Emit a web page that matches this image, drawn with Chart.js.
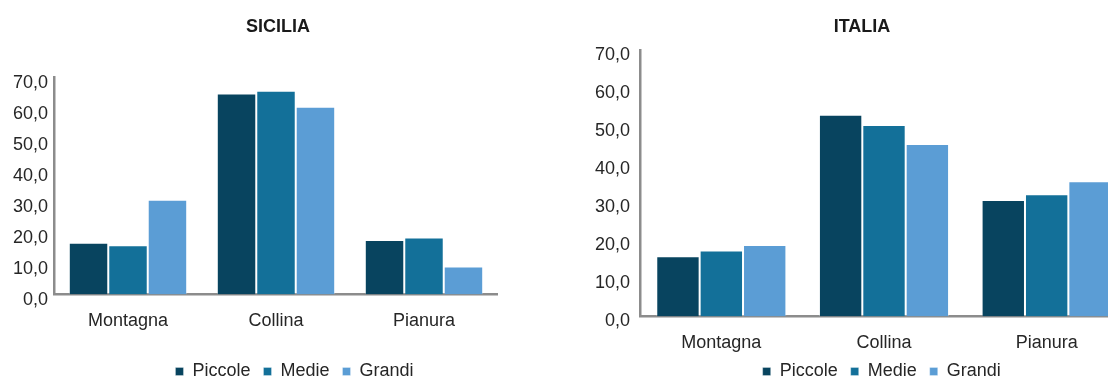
<!DOCTYPE html>
<html lang="it">
<head>
<meta charset="utf-8">
<title>Piccole, medie e grandi - Sicilia e Italia</title>
<script src="https://cdn.jsdelivr.net/npm/chart.js@4.4.1/dist/chart.umd.min.js"></script>
<style>
  html, body { margin: 0; padding: 0; background: #fff; overflow: hidden; }
  #frame { position: relative; width: 1108px; height: 376px; overflow: hidden; background: #fff; }
  #frame canvas { position: absolute; top: 0; }
  #sicilia { left: 0; }
  #italia { left: 590px; }
</style>
</head>
<body>
<div id="frame">
  <canvas id="sicilia" width="498" height="400"></canvas>
  <canvas id="italia" width="538" height="400"></canvas>
</div>
<script>
// Categories and series
const categories = ['Montagna', 'Collina', 'Pianura'];
const seriesNames = ['Piccole', 'Medie', 'Grandi'];

// SICILIA values (%)
const siciliaPiccole = [16.7, 64.8, 17.6];
const siciliaMedie   = [15.9, 65.7, 18.4];
const siciliaGrandi  = [30.5, 60.5, 9.0];

// ITALIA values (%)
const italiaPiccole = [15.9, 53.1, 30.7];
const italiaMedie   = [17.4, 50.4, 32.2];
const italiaGrandi  = [18.8, 45.4, 35.6];

// Value-axis tick labels, bottom to top
const yTickLabels = ['0,0', '10,0', '20,0', '30,0', '40,0', '50,0', '60,0', '70,0'];

const seriesColors = ['#08445f', '#137099', '#5b9dd5'];
const FONT = "'Liberation Sans', Arial, sans-serif";
const TEXT = '#262626';
const AXIS = '#8c8c8c';

// Moves the title and legend after the layout has been computed
const nudge = {
  id: 'nudge',
  afterLayout(chart, args, opts) {
    const shift = (box, dx, dy) => {
      if (!box) return;
      box.left += dx || 0; box.right += dx || 0;
      box.top += dy || 0; box.bottom += dy || 0;
    };
    shift(chart.titleBlock, opts.titleX, 0);
    shift(chart.legend, opts.legendX, opts.legendY);
  }
};

function drawPanel(id, title, values, p) {
  return new Chart(document.getElementById(id), {
    type: 'bar',
    data: {
      labels: categories,
      datasets: seriesNames.map((name, i) => ({
        label: name,
        data: values[i],
        backgroundColor: seriesColors[i],
        borderColor: 'rgba(255,255,255,0.3)',
        borderWidth: 1,
        categoryPercentage: 0.8,
        barPercentage: 1
      }))
    },
    plugins: [nudge],
    options: {
      responsive: false,
      animation: false,
      devicePixelRatio: 1,
      layout: { padding: 0 },
      plugins: {
        title: {
          display: true,
          text: title,
          color: '#1a1a1a',
          font: { family: FONT, size: 18, weight: 'bold' },
          padding: { top: 16.5, bottom: p.titleGap }
        },
        legend: {
          position: 'bottom',
          labels: {
            boxWidth: 8,
            boxHeight: 8,
            padding: 13,
            color: TEXT,
            font: { family: FONT, size: 18 }
          }
        },
        tooltip: { enabled: false },
        nudge: { titleX: p.titleX, legendX: p.legendX, legendY: -9.5 }
      },
      scales: {
        x: {
          grid: { display: false, drawTicks: false, tickLength: 0 },
          border: { display: true, color: AXIS, width: 2.5 },
          ticks: { color: TEXT, font: { family: FONT, size: 18 }, padding: 15.5 },
          afterFit: (scale) => { scale.height = p.xHeight; }
        },
        y: {
          min: 0,
          max: 70,
          grid: { display: false, drawTicks: false, tickLength: 0 },
          border: { display: true, color: AXIS, width: 2.5 },
          ticks: {
            stepSize: 10,
            color: TEXT,
            font: { family: FONT, size: 18 },
            padding: p.yPad,
            labelOffset: p.yLabelOffset,
            callback: (value, index) => yTickLabels[index]
          },
          afterFit: (scale) => { scale.width = p.yWidth; }
        }
      }
    }
  });
}

drawPanel('sicilia', 'SICILIA', [siciliaPiccole, siciliaMedie, siciliaGrandi], {
  titleGap: 39.2, titleX: 29, legendX: 45.5,
  xHeight: 64.5, yWidth: 54, yPad: 6, yLabelOffset: 5.5
});

drawPanel('italia', 'ITALIA', [italiaPiccole, italiaMedie, italiaGrandi], {
  titleGap: 12.6, titleX: 3, legendX: 22.7,
  xHeight: 42.5, yWidth: 50, yPad: 10, yLabelOffset: 4.5
});
</script>
</body>
</html>
